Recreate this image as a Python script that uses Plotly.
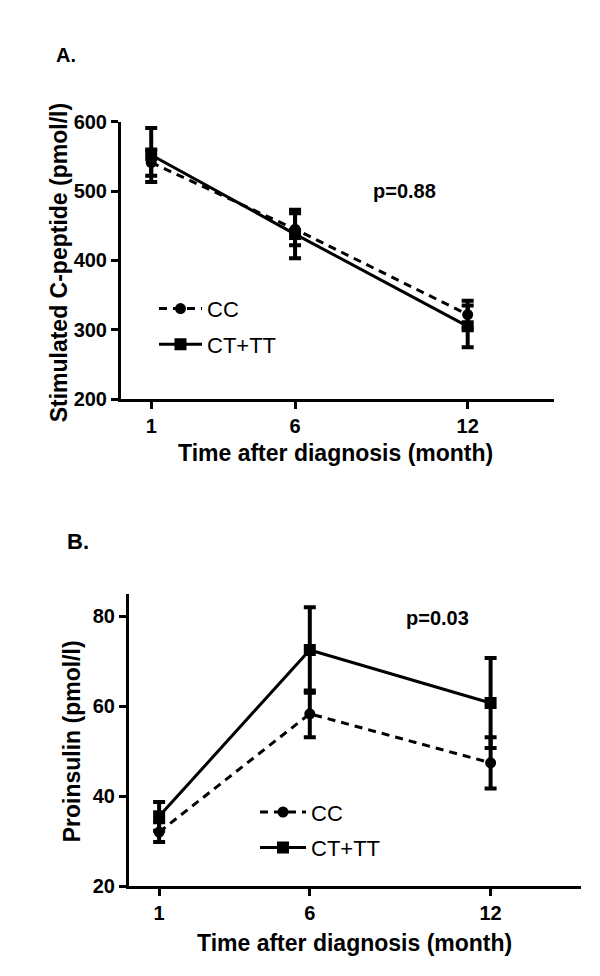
import plotly.graph_objects as go

months = [1, 6, 12]
x_ticks = [1, 6, 12]

# Panel A: stimulated C-peptide (pmol/l)
cpep_cc = [541, 445, 322]
cpep_cc_se = [19, 23, 20]
cpep_cttt = [552, 438, 305]
cpep_cttt_se = [39, 35, 30]
cpep_yticks = [200, 300, 400, 500, 600]

# Panel B: proinsulin (pmol/l)
pro_cc = [32.0, 58.3, 47.4]
pro_cc_se = [2.2, 5.2, 5.7]
pro_cttt = [35.5, 72.5, 60.7]
pro_cttt_se = [3.2, 9.5, 10.0]
pro_yticks = [20, 40, 60, 80]

x_title = "Time after diagnosis (month)"
y_title_a = "Stimulated C-peptide (pmol/l)"
y_title_b = "Proinsulin (pmol/l)"

FONT = "Liberation Sans, Arial, sans-serif"
BLACK = "#000000"

fig = go.Figure()

def add_pair(cc, cc_se, cttt, cttt_se, xa, ya, legend):
    fig.add_trace(go.Scatter(
        x=months, y=cc, name="CC", mode="lines+markers",
        line=dict(color=BLACK, width=3, dash="8px,6px"),
        marker=dict(symbol="circle", size=11, color=BLACK),
        error_y=dict(type="data", array=cc_se, visible=True, color=BLACK,
                     thickness=4, width=6),
        xaxis=xa, yaxis=ya, legend=legend, legendgroup=legend + "cc"))
    fig.add_trace(go.Scatter(
        x=months, y=cttt, name="CT+TT", mode="lines+markers",
        line=dict(color=BLACK, width=3),
        marker=dict(symbol="square", size=12, color=BLACK),
        error_y=dict(type="data", array=cttt_se, visible=True, color=BLACK,
                     thickness=4, width=6),
        xaxis=xa, yaxis=ya, legend=legend, legendgroup=legend + "ct"))

add_pair(cpep_cc, cpep_cc_se, cpep_cttt, cpep_cttt_se, "x", "y", "legend")
add_pair(pro_cc, pro_cc_se, pro_cttt, pro_cttt_se, "x2", "y2", "legend2")

axis_common = dict(showline=True, linewidth=3, linecolor=BLACK, ticks="outside",
                   ticklen=7, tickwidth=3, tickcolor=BLACK, showgrid=False,
                   zeroline=False, fixedrange=True,
                   tickfont=dict(family=FONT, size=20, color=BLACK, weight="bold"))

title_font = dict(family=FONT, size=23, color=BLACK, weight="bold")

ya_dom = [1 - 389/976, 1 - 105/976]
yb_dom = [1 - 887/976, 1 - 588/976]

fig.update_layout(
    width=600, height=976,
    margin=dict(l=0, r=0, t=0, b=0),
    paper_bgcolor="white", plot_bgcolor="white",
    font=dict(family=FONT, color=BLACK),
    xaxis=dict(domain=[113/600, 546/600], range=[-0.05, 15], tickvals=x_ticks,
               anchor="y", ticklabelstandoff=0, **axis_common),
    yaxis=dict(domain=ya_dom, range=[200, 600], tickvals=cpep_yticks,
               anchor="x", **axis_common),
    xaxis2=dict(domain=[121/600, 573/600], range=[0, 15], tickvals=x_ticks,
                anchor="y2", ticklabelstandoff=0, **axis_common),
    yaxis2=dict(domain=yb_dom, range=[20, 85], tickvals=pro_yticks,
                anchor="x2", **axis_common),
    legend=dict(x=146/600, y=1 - 275/976, xanchor="left", yanchor="top",
                bgcolor="rgba(0,0,0,0)", borderwidth=0,
                font=dict(family=FONT, size=22, color=BLACK),
                tracegroupgap=4, itemwidth=43),
    legend2=dict(x=247/600, y=1 - 790/976, xanchor="left", yanchor="top",
                 bgcolor="rgba(0,0,0,0)", borderwidth=0,
                 font=dict(family=FONT, size=22, color=BLACK),
                 tracegroupgap=4, itemwidth=46),
    showlegend=True,
    annotations=[
        dict(text="A.", xref="paper", yref="paper", x=58/600, y=1 - 37/976,
             xanchor="center", yanchor="middle", showarrow=False,
             font=dict(family=FONT, size=20, color=BLACK, weight="bold")),
        dict(text="B.", xref="paper", yref="paper", x=70/600, y=1 - 535/976,
             xanchor="center", yanchor="middle", showarrow=False,
             font=dict(family=FONT, size=22, color=BLACK, weight="bold")),
        dict(text=x_title, xref="paper", yref="paper", x=327/600, y=1 - 444/976,
             xanchor="center", yanchor="middle", showarrow=False, font=title_font),
        dict(text=x_title, xref="paper", yref="paper", x=346/600, y=1 - 945/976,
             xanchor="center", yanchor="middle", showarrow=False, font=title_font),
        dict(text=y_title_a, xref="paper", yref="paper", x=51/600, y=1 - 250/976,
             xanchor="center", yanchor="middle", textangle=-90, showarrow=False,
             font=title_font),
        dict(text=y_title_b, xref="paper", yref="paper", x=64/600, y=1 - 739/976,
             xanchor="center", yanchor="middle", textangle=-90, showarrow=False,
             font=title_font),
        dict(text="p=0.88", xref="x", yref="y", x=9.8, y=500, showarrow=False,
             xanchor="center", yanchor="middle",
             font=dict(family=FONT, size=20, color=BLACK, weight="bold")),
        dict(text="p=0.03", xref="x2", yref="y2", x=10.25, y=79.5, showarrow=False,
             xanchor="center", yanchor="middle",
             font=dict(family=FONT, size=20, color=BLACK, weight="bold")),
    ],
)

fig.write_html("out.html")
